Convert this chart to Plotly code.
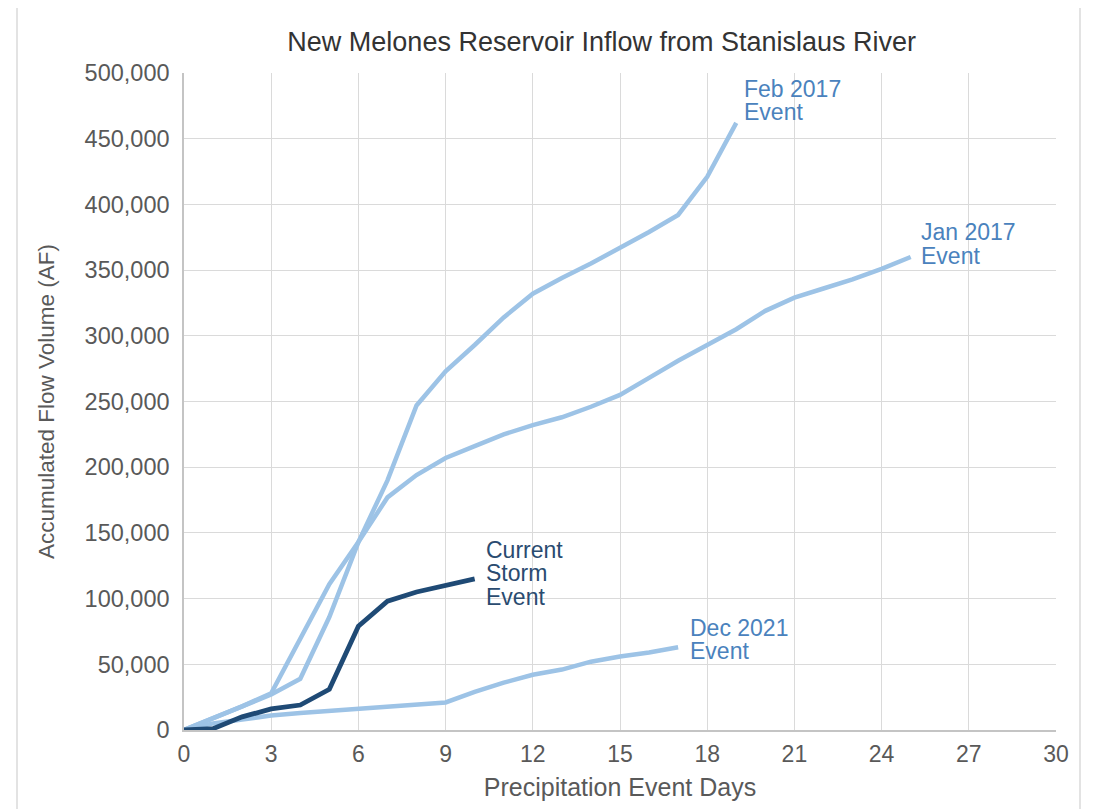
import plotly.graph_objects as go

# ---- data ----
feb_days = list(range(0, 20))
feb_2017 = [0, 9000, 18000, 27000, 39000, 86000, 143000, 190000, 247000, 273000,
            293000, 314000, 332000, 344000, 355000, 367000, 379000, 392000, 421000, 462000]

jan_days = list(range(0, 26))
jan_2017 = [0, 9000, 18000, 28000, 70000, 111000, 143000, 177000, 194000, 207000,
            216000, 225000, 232000, 238000, 246000, 255000, 268000, 281000, 293000, 305000,
            319000, 329000, 336000, 343000, 351000, 360000]

dec_days = list(range(0, 18))
dec_2021 = [0, 5000, 8000, 11000, 13000, 14500, 16000, 17500, 19500, 21000,
            29000, 36000, 42000, 46000, 52000, 56000, 59000, 63000]

cur_days = list(range(0, 11))
current_storm = [0, 1000, 10000, 16000, 19000, 31000, 79000, 98000, 105000, 110000, 115000]

x_ticks = [0, 3, 6, 9, 12, 15, 18, 21, 24, 27, 30]
y_ticks = [0, 50000, 100000, 150000, 200000, 250000, 300000, 350000, 400000, 450000, 500000]
y_tick_text = [f"{v:,}" for v in y_ticks]

FONT = "Liberation Sans, Arial, Helvetica, sans-serif"
LIGHT = "#9dc3e6"
DARK = "#1f4a75"
LIGHT_TXT = "#4a82bd"
DARK_TXT = "#2a4b70"

fig = go.Figure()
for xs, ys, name in [(feb_days, feb_2017, "Feb 2017 Event"),
                     (jan_days, jan_2017, "Jan 2017 Event"),
                     (dec_days, dec_2021, "Dec 2021 Event")]:
    fig.add_trace(go.Scatter(x=xs, y=ys, mode="lines", name=name,
                             line=dict(color=LIGHT, width=4.5), showlegend=False))
fig.add_trace(go.Scatter(x=cur_days, y=current_storm, mode="lines", name="Current Storm Event",
                         line=dict(color=DARK, width=4.8), showlegend=False))

labels = [
    (19.23, [487800, 470300], ["Feb 2017", "Event"], LIGHT_TXT),
    (25.32, [379000, 360700], ["Jan 2017", "Event"], LIGHT_TXT),
    (10.35, [137000, 119500, 101000], ["Current", "Storm", "Event"], DARK_TXT),
    (17.37, [77600, 60100], ["Dec 2021", "Event"], LIGHT_TXT),
]
for x, ys, texts, col in labels:
    for y, t in zip(ys, texts):
        fig.add_annotation(x=x, y=y, text=t, showarrow=False, xanchor="left", yanchor="middle",
                           borderpad=0,
                           font=dict(family=FONT, size=23, color=col))

# outer light frame
fig.add_shape(type="rect", xref="paper", yref="paper", x0=-0.1915, x1=1.0275, y0=-0.3, y1=1.102,
              line=dict(color="#e3e3e3", width=2), layer="below")

fig.update_layout(
    width=1096, height=809,
    margin=dict(l=176, r=48, t=65, b=87),
    paper_bgcolor="white", plot_bgcolor="white",
    title=dict(text="New Melones Reservoir Inflow from Stanislaus River",
               x=0.479, xref="paper", xanchor="center", y=1 - 34 / 809, yanchor="middle",
               font=dict(family=FONT, size=27, color="#333333")),
    font=dict(family=FONT, color="#595959"),
)
fig.update_xaxes(range=[0, 30], tickvals=x_ticks, showgrid=True, gridcolor="#dadada", gridwidth=1,
                 zeroline=False, showline=True, linecolor="#c4c4c4", linewidth=1.5,
                 tickfont=dict(family=FONT, size=23, color="#595959"), ticks="", ticklabelstandoff=3,
                 title=dict(text="Precipitation Event Days", standoff=12,
                            font=dict(family=FONT, size=25, color="#595959")))
fig.update_yaxes(range=[0, 500000], tickvals=y_ticks, ticktext=y_tick_text, showgrid=True,
                 gridcolor="#dadada", gridwidth=1, zeroline=False, showline=True,
                 linecolor="#c4c4c4", linewidth=1.5,
                 tickfont=dict(family=FONT, size=23.5, color="#595959"), ticks="", ticklabelstandoff=8,
                 title=dict(text="Accumulated Flow Volume (AF)", standoff=24,
                            font=dict(family=FONT, size=22.5, color="#595959")))

fig.write_html("out.html")
